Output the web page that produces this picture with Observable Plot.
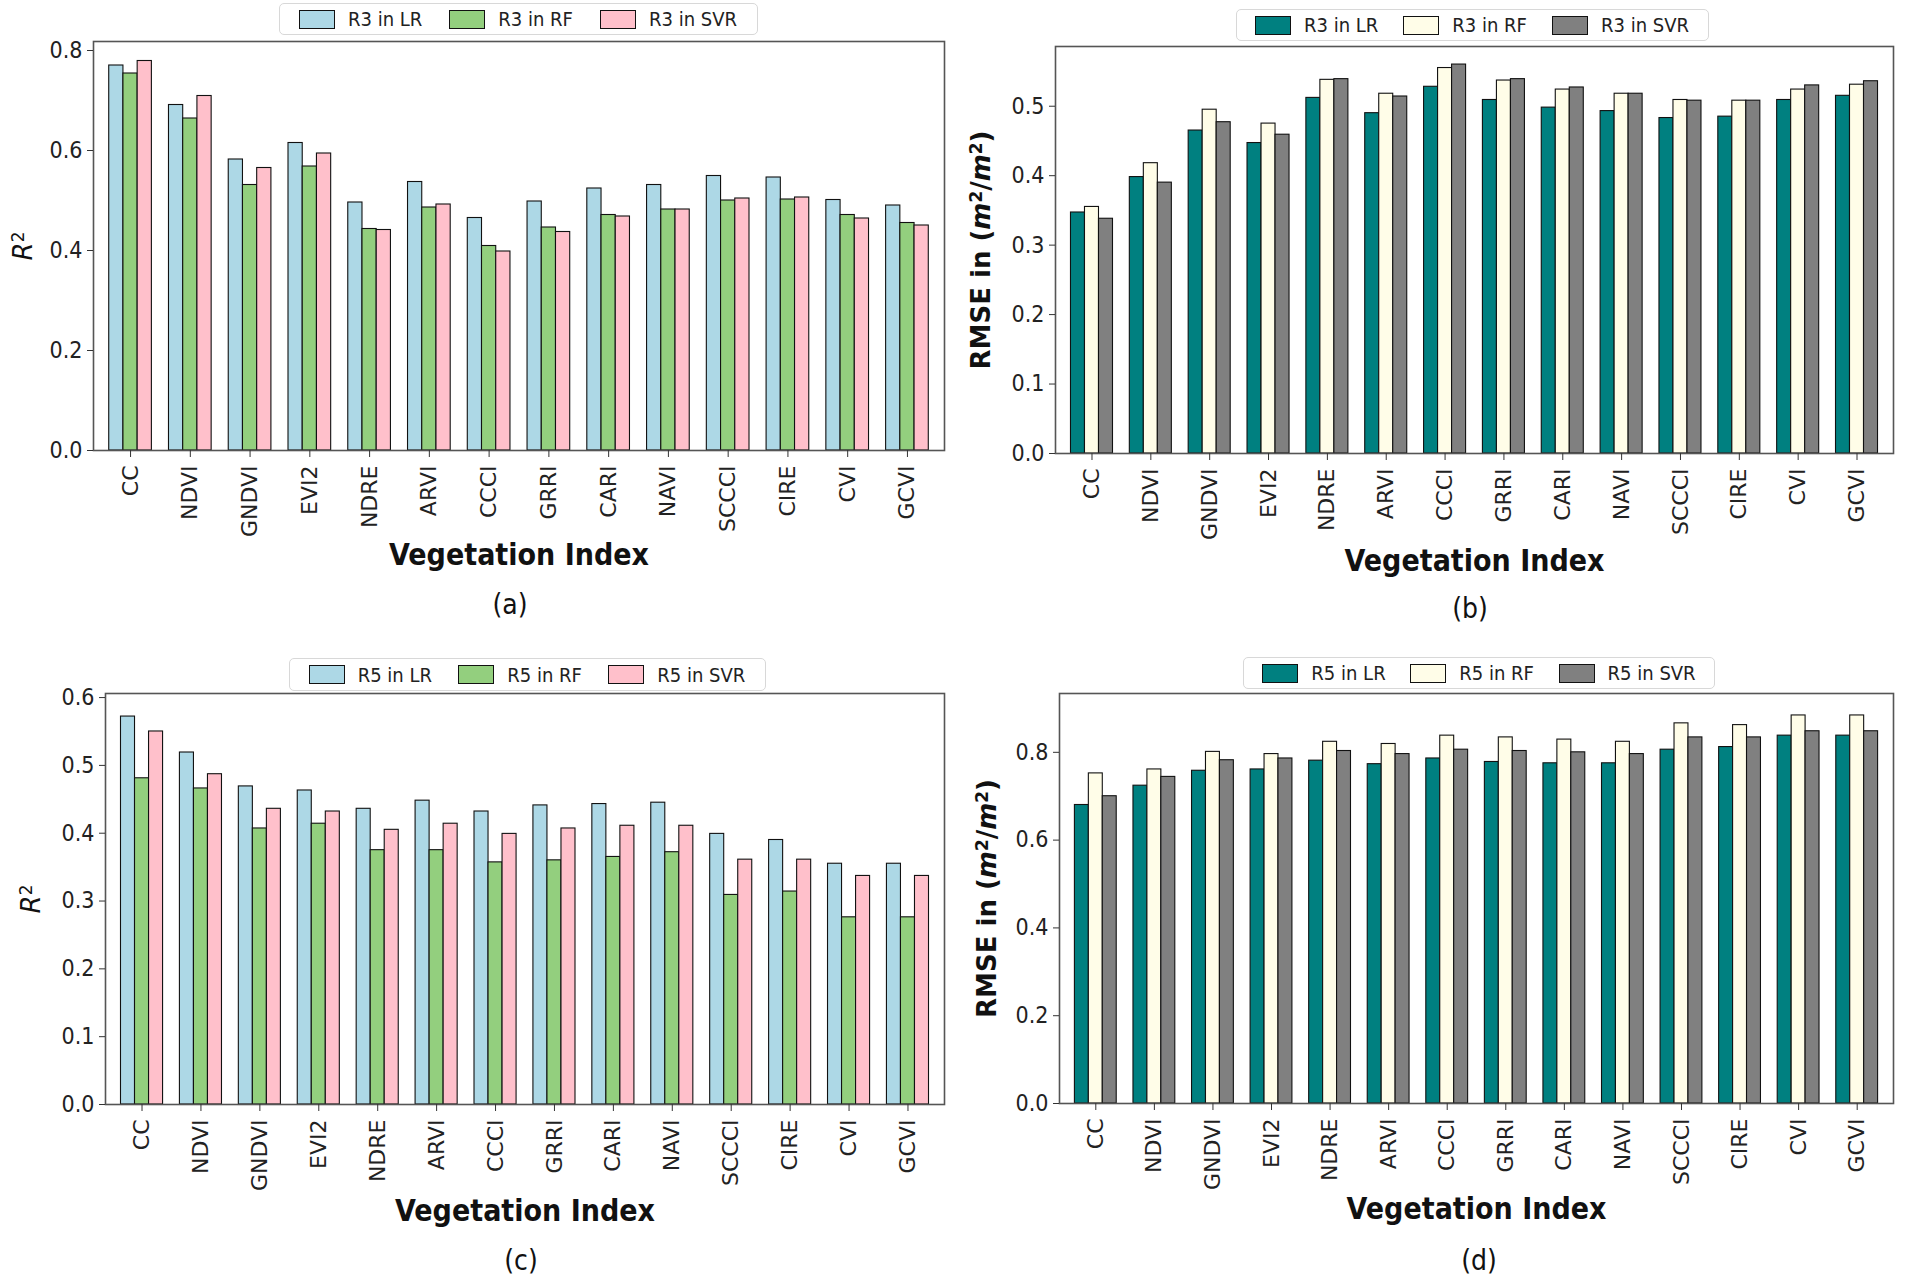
<!DOCTYPE html>
<html><head><meta charset="utf-8">
<script src="https://cdn.jsdelivr.net/npm/d3@7"></script>
<script src="https://cdn.jsdelivr.net/npm/@observablehq/plot@0.6"></script>
<style>
html,body{margin:0;padding:0;background:#fff}
body{width:1905px;height:1280px;position:relative;overflow:hidden;font-family:"DejaVu Sans",sans-serif;color:#111}
.panel{position:absolute}
.panel svg{display:block;max-width:none !important;overflow:visible}
.legend{position:absolute;display:flex;align-items:center;justify-content:space-around;border:1.5px solid #d8d8d8;border-radius:5px;box-sizing:border-box;padding:0 6px;font-family:"DejaVu Sans Condensed","Liberation Sans Narrow",sans-serif;font-stretch:condensed;font-size:20px;color:#222;background:#fff}
.legend .item{display:flex;align-items:center;gap:13px}
.legend .sw{width:36px;height:19px;border:1.5px solid #111;box-sizing:border-box}
.cap{position:absolute;transform:translate(-50%,-50%);font-family:"DejaVu Sans Condensed","Liberation Sans Narrow",sans-serif;font-stretch:condensed;font-size:28px;color:#111}
g[aria-label="y-axis tick label"]{font-family:"DejaVu Sans Condensed","Liberation Sans Narrow",sans-serif;font-stretch:condensed;font-size:23px}
g[aria-label="x-axis tick label"]{font-family:"DejaVu Sans",sans-serif;font-size:22px}
</style>
</head><body>
<script>
// ---------------- data ----------------
const categories = ["CC","NDVI","GNDVI","EVI2","NDRE","ARVI","CCCI","GRRI","CARI","NAVI","SCCCI","CIRE","CVI","GCVI"];

// (a) R3 - R^2
const r3R2_LR  = [0.770,0.691,0.582,0.615,0.496,0.537,0.465,0.498,0.524,0.531,0.549,0.546,0.501,0.490];
const r3R2_RF  = [0.754,0.664,0.531,0.568,0.443,0.486,0.409,0.446,0.471,0.482,0.500,0.502,0.471,0.455];
const r3R2_SVR = [0.779,0.709,0.565,0.594,0.441,0.492,0.398,0.437,0.468,0.482,0.504,0.506,0.464,0.450];

// (b) R3 - RMSE
const r3RMSE_LR  = [0.347,0.398,0.465,0.447,0.512,0.490,0.528,0.509,0.498,0.493,0.483,0.485,0.509,0.515];
const r3RMSE_RF  = [0.355,0.418,0.495,0.475,0.538,0.518,0.555,0.537,0.524,0.518,0.509,0.508,0.524,0.531];
const r3RMSE_SVR = [0.338,0.390,0.477,0.459,0.539,0.514,0.560,0.539,0.527,0.518,0.508,0.508,0.530,0.536];

// (c) R5 - R^2
const r5R2_LR  = [0.572,0.519,0.469,0.463,0.436,0.448,0.432,0.441,0.443,0.445,0.399,0.390,0.355,0.355];
const r5R2_RF  = [0.481,0.466,0.407,0.414,0.375,0.375,0.357,0.360,0.365,0.372,0.309,0.314,0.276,0.276];
const r5R2_SVR = [0.550,0.487,0.436,0.432,0.405,0.414,0.399,0.407,0.411,0.411,0.361,0.361,0.337,0.337];

// (d) R5 - RMSE
const r5RMSE_LR  = [0.680,0.724,0.758,0.761,0.781,0.773,0.786,0.778,0.775,0.775,0.806,0.812,0.838,0.838];
const r5RMSE_RF  = [0.752,0.761,0.801,0.796,0.824,0.819,0.838,0.834,0.829,0.824,0.866,0.862,0.884,0.884];
const r5RMSE_SVR = [0.700,0.744,0.782,0.786,0.803,0.796,0.806,0.803,0.800,0.796,0.834,0.834,0.848,0.848];

const legendR3 = ["R3 in LR","R3 in RF","R3 in SVR"];
const legendR5 = ["R5 in LR","R5 in RF","R5 in SVR"];
const colorsR2   = ["#add8e6","#93cf7e","#ffc0cb"];
const colorsRMSE = ["#008080","#fffde8","#808080"];

const ticksA = [0,0.2,0.4,0.6,0.8];
const ticksB = [0,0.1,0.2,0.3,0.4,0.5];
const ticksC = [0,0.1,0.2,0.3,0.4,0.5,0.6];
const ticksD = [0,0.2,0.4,0.6,0.8];

// ---------------- drawing ----------------
const BAR = 0.238; // bar width in category units

function panel(cfg){
  const series = cfg.names;
  const rows = [];
  categories.forEach((c,i)=>{
    cfg.values.forEach((arr,j)=>rows.push({i, j, cat:c, series:series[j], value:arr[i]}));
  });
  const div = document.createElement("div");
  div.className = "panel";
  div.style.left = cfg.left+"px"; div.style.top = cfg.top+"px"; div.style.width = cfg.width+"px";
  const plot = Plot.plot({
    width: cfg.width, height: cfg.height,
    marginLeft: cfg.ml, marginRight: cfg.mr, marginTop: cfg.mt, marginBottom: cfg.mb,
    style: {fontFamily: "'DejaVu Sans', sans-serif", fontSize: "21px", color: "#222", background: "transparent", overflow: "visible"},
    x: {type: "linear", domain: [-0.62, 13.62]},
    y: {domain: [0, cfg.ymax]},
    color: {domain: series, range: cfg.colors},
    marks: [
      Plot.rectY(rows, {
        x1: d => d.i + (d.j - 1) * BAR - BAR / 2,
        x2: d => d.i + (d.j - 1) * BAR + BAR / 2,
        y1: 0, y2: "value", fill: "series",
        stroke: "#111", strokeWidth: 1.1
      }),
      Plot.frame({stroke: "#555", strokeWidth: 1.6}),
      Plot.axisY({ticks: cfg.yticks, tickFormat: d3.format(".1f"), tickSize: 6, tickPadding: 5, label: null, stroke: "#333"}),
      Plot.axisX({ticks: categories.map((c,i)=>i), tickFormat: i => categories[i], tickRotate: -90, tickSize: 7, tickPadding: 8, label: null, stroke: "#333"}),
      Plot.text(["Vegetation Index"], {frameAnchor: "bottom", dy: cfg.xlabDy, textAnchor: "middle", fontFamily: "'DejaVu Sans Condensed','Liberation Sans Narrow',sans-serif", fontWeight: "bold", fontSize: 30, fill: "#111"}),
      Plot.text([cfg.ylabel], {frameAnchor: "left", dx: cfg.ylabDx, textAnchor: "middle", rotate: -90, fontSize: cfg.ylabSize, fontWeight: cfg.ylabWeight, fill: "#111"})
    ]
  });
  div.appendChild(plot);
  document.body.appendChild(div);

  // rich y-axis title (math text): italic variable and superscripts
  const t = Array.from(plot.querySelectorAll("text")).find(e => e.textContent === cfg.ylabel);
  if (t) {
    const ns = "http://www.w3.org/2000/svg";
    while (t.firstChild) t.removeChild(t.firstChild);
    cfg.ylabParts.forEach(p => {
      const s = document.createElementNS(ns, "tspan");
      s.textContent = p.t;
      if (p.i) s.setAttribute("font-style", "italic");
      if (p.sup) { s.setAttribute("dy", "-0.45em"); s.setAttribute("font-size", "65%"); }
      if (p.down) s.setAttribute("dy", "0.3em");
      t.appendChild(s);
    });
  }

  // legend
  const lg = document.createElement("div");
  lg.className = "legend";
  lg.style.left = (cfg.legCx - cfg.legW/2) + "px";
  lg.style.top = cfg.legTop + "px";
  lg.style.width = cfg.legW + "px";
  lg.style.height = cfg.legH + "px";
  series.forEach((s,j)=>{
    const it = document.createElement("div"); it.className = "item";
    const sw = document.createElement("div"); sw.className = "sw"; sw.style.background = cfg.colors[j];
    const tx = document.createElement("span"); tx.textContent = s;
    it.appendChild(sw); it.appendChild(tx); lg.appendChild(it);
  });
  document.body.appendChild(lg);

  // caption
  const cap = document.createElement("div");
  cap.className = "cap";
  cap.style.left = cfg.capX + "px"; cap.style.top = cfg.capY + "px";
  cap.textContent = cfg.caption;
  document.body.appendChild(cap);
}

const r2Parts = [{t:"R", i:true},{t:"2", sup:true}];
const rmseParts = [{t:"RMSE in ("},{t:"m", i:true},{t:"2", sup:true},{t:"/", down:true},{t:"m", i:true},{t:"2", sup:true},{t:")", down:true}];

panel({left:0, top:36, width:960, height:554, ml:93, mr:16, mt:5, mb:140,
  values:[r3R2_LR, r3R2_RF, r3R2_SVR], names:legendR3, colors:colorsR2,
  ymax:0.818, yticks:ticksA, xlabDy:114, ylabel:"R2", ylabParts:r2Parts, ylabDx:-70, ylabSize:26, ylabWeight:"normal",
  legCx:518, legTop:3, legW:479, legH:32, caption:"(a)", capX:510, capY:604});

panel({left:960, top:42, width:945, height:558, ml:95, mr:12, mt:4, mb:147,
  values:[r3RMSE_LR, r3RMSE_RF, r3RMSE_SVR], names:legendR3, colors:colorsRMSE,
  ymax:0.586, yticks:ticksB, xlabDy:117, ylabel:"RMSE in (m2/m2)", ylabParts:rmseParts, ylabDx:-74, ylabSize:26, ylabWeight:"bold",
  legCx:1472, legTop:9, legW:473, legH:32, caption:"(b)", capX:1470, capY:608});

panel({left:0, top:690, width:960, height:558, ml:105, mr:16, mt:3, mb:144,
  values:[r5R2_LR, r5R2_RF, r5R2_SVR], names:legendR5, colors:colorsR2,
  ymax:0.606, yticks:ticksC, xlabDy:116, ylabel:"R2", ylabParts:r2Parts, ylabDx:-74, ylabSize:26, ylabWeight:"normal",
  legCx:527, legTop:658, legW:477, legH:33, caption:"(c)", capX:521, capY:1260});

panel({left:960, top:690, width:945, height:558, ml:99, mr:12, mt:3, mb:145,
  values:[r5RMSE_LR, r5RMSE_RF, r5RMSE_SVR], names:legendR5, colors:colorsRMSE,
  ymax:0.934, yticks:ticksD, xlabDy:115, ylabel:"RMSE in (m2/m2)", ylabParts:rmseParts, ylabDx:-72, ylabSize:26, ylabWeight:"bold",
  legCx:1479, legTop:657, legW:472, legH:32, caption:"(d)", capX:1479, capY:1260});
</script>
</body></html>
